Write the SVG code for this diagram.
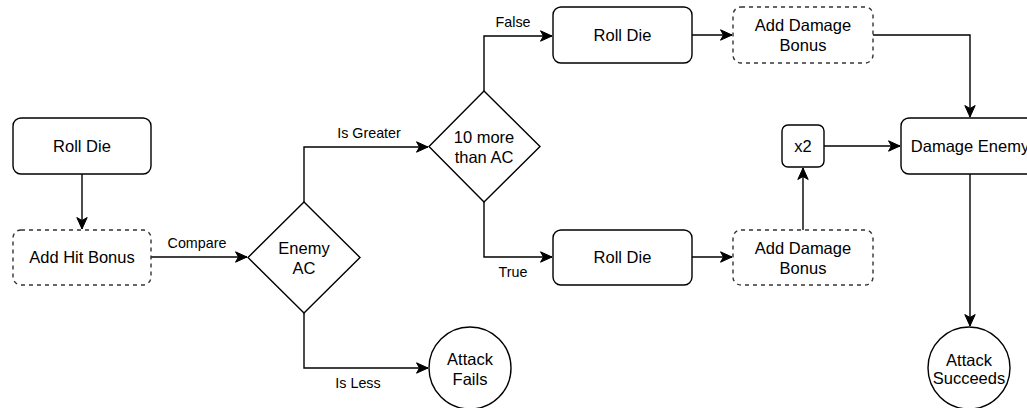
<svg xmlns="http://www.w3.org/2000/svg" width="1027" height="408" viewBox="0 0 1027 408">
  <style>
    .box { fill: #ffffff; stroke: #000000; stroke-width: 1.4; }
    .dash { fill: #ffffff; stroke: #333333; stroke-width: 1.4; stroke-dasharray: 4 4; }
    .edge { fill: none; stroke: #000000; stroke-width: 1.4; marker-end: url(#arrow); }
    .lbl { font-family: "Liberation Sans", Arial, sans-serif; font-size: 16.5px; fill: #000000; text-anchor: middle; }
    .elbl { font-family: "Liberation Sans", Arial, sans-serif; font-size: 14.3px; fill: #000000; text-anchor: middle; }
  </style>
  <defs>
    <marker id="arrow" markerUnits="userSpaceOnUse" markerWidth="14" markerHeight="12" viewBox="-12 -6 13 12" refX="0" refY="0" orient="auto">
      <path d="M0,0 L-11.5,-5.2 L-8.5,0 L-11.5,5.2 Z" fill="#000000" stroke="#000000" stroke-width="1"/>
    </marker>
  </defs>
  <rect width="1027" height="408" fill="#ffffff"/>

  <!-- connectors -->
  <g id="connectors">
    <path class="edge" d="M82,174 L82,229"/>
    <path class="edge" d="M151,257 L247,257"/>
    <text class="elbl" x="197" y="248">Compare</text>
    <path class="edge" d="M304,202 L304,147 L428,147"/>
    <text class="elbl" x="369" y="138">Is Greater</text>
    <path class="edge" d="M304,313 L304,368 L428,368"/>
    <text class="elbl" x="358" y="388">Is Less</text>
    <path class="edge" d="M484,91 L484,36 L552,36"/>
    <text class="elbl" x="513" y="27">False</text>
    <path class="edge" d="M484,202 L484,257 L552,257"/>
    <text class="elbl" x="513" y="277">True</text>
    <path class="edge" d="M692,35 L732,35"/>
    <path class="edge" d="M692,257 L732,257"/>
    <path class="edge" d="M873,35 L970,35 L970,117"/>
    <path class="edge" d="M803,230 L803,168"/>
    <path class="edge" d="M824,146 L900,146"/>
    <path class="edge" d="M970,174 L970,326"/>
  </g>

  <g id="roll-die-hit">
    <rect class="box" x="13" y="118" width="138" height="56" rx="8"/>
    <text class="lbl" x="82" y="152">Roll Die</text>
  </g>
  <g id="add-hit-bonus">
    <rect class="dash" x="13" y="230" width="138" height="55" rx="8"/>
    <text class="lbl" x="82" y="263">Add Hit Bonus</text>
  </g>
  <g id="enemy-ac">
    <path class="box" d="M304,202 L360,257.5 L304,313 L248,257.5 Z"/>
    <text class="lbl" x="304" y="254">Enemy</text>
    <text class="lbl" x="304" y="274">AC</text>
  </g>
  <g id="ten-more">
    <path class="box" d="M484,91 L540,146.5 L484,202 L429,146.5 Z"/>
    <text class="lbl" x="484" y="143">10 more</text>
    <text class="lbl" x="484" y="163">than AC</text>
  </g>
  <g id="attack-fails">
    <circle class="box" cx="470" cy="368" r="41"/>
    <text class="lbl" x="470" y="365">Attack</text>
    <text class="lbl" x="470" y="385">Fails</text>
  </g>
  <g id="roll-die-false">
    <rect class="box" x="553" y="7" width="139" height="56" rx="8"/>
    <text class="lbl" x="622.5" y="41">Roll Die</text>
  </g>
  <g id="roll-die-true">
    <rect class="box" x="553" y="230" width="139" height="55" rx="8"/>
    <text class="lbl" x="622.5" y="263">Roll Die</text>
  </g>
  <g id="add-damage-false">
    <rect class="dash" x="733" y="7" width="140" height="56" rx="8"/>
    <text class="lbl" x="803" y="31">Add Damage</text>
    <text class="lbl" x="803" y="51">Bonus</text>
  </g>
  <g id="add-damage-true">
    <rect class="dash" x="733" y="230" width="140" height="55" rx="8"/>
    <text class="lbl" x="803" y="254">Add Damage</text>
    <text class="lbl" x="803" y="274">Bonus</text>
  </g>
  <g id="double">
    <rect class="box" x="782" y="125" width="42" height="42" rx="6"/>
    <text class="lbl" x="803" y="152">x2</text>
  </g>
  <g id="damage-enemy">
    <rect class="box" x="901" y="118" width="138" height="56" rx="8"/>
    <text class="lbl" x="970" y="152">Damage Enemy</text>
  </g>
  <g id="attack-succeeds">
    <circle class="box" cx="969" cy="368" r="41"/>
    <text class="lbl" x="969" y="366">Attack</text>
    <text class="lbl" x="969" y="384">Succeeds</text>
  </g>
</svg>
